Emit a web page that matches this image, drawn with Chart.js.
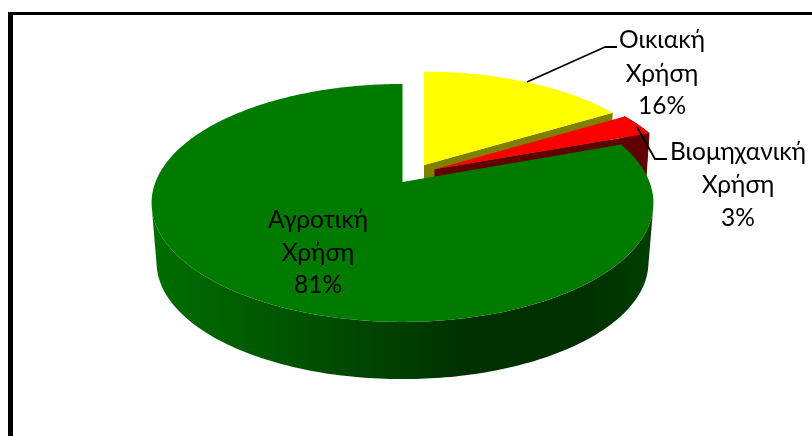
<!DOCTYPE html>
<html>
<head>
<meta charset="utf-8">
<script src="https://cdn.jsdelivr.net/npm/chart.js@4"></script>
<style>
html,body{margin:0;padding:0;background:#fff;width:812px;height:436px;overflow:hidden}
#frame{position:absolute;left:8px;top:12px;right:0;bottom:0;border-left:5px solid #000;border-top:3px solid #000;pointer-events:none}
canvas{position:absolute;left:0;top:0}
</style>
</head>
<body>
<canvas id="c" width="812" height="436"></canvas>
<div id="frame"></div>
<script>
const categories = ['Οικιακή Χρήση', 'Βιομηχανική Χρήση', 'Αγροτική Χρήση'];
const values = [16.3, 3.1, 80.6];
const colors = ['#ffff00', '#ff0000', '#007b00'];

// Perspective of the 3D pie: maps points of the unit disk to the page.
const view = { cx: 402.5, cy: 182, bx: 247, by: 115.3, p: 0.176, depth: 60, shrink: 0.98 };
const explodeV = [0.151, 0.112, 0];
const shiftX = [21.5, 32, 0];
const faceShade = [0.5, 0.38, 0.4];
const labelBoxes = [[662, [40, 74, 106]], [738, [152, 185, 218]], [318, [220, 253, 285]]];
const leaders = [[[527, 82], [605, 47], [617, 47]], [[637, 127], [655, 159], [667, 159]]];

function project(u, v, i, lower) {
  const d = 1 + view.p * v;
  const s = lower ? view.shrink : 1;
  return [view.cx + shiftX[i] + s * view.bx * u / d, view.cy + (lower ? view.depth : 0) - s * view.by * v / d];
}
function shadeColor(hex, f) {
  const n = parseInt(hex.slice(1), 16);
  return `rgb(${Math.round((n >> 16 & 255) * f)},${Math.round((n >> 8 & 255) * f)},${Math.round((n & 255) * f)})`;
}
function wallShade(u) {
  if (u < 0.3) return 0.9 - (u + 1) / 1.3 * 0.52;
  if (u < 0.7) return 0.38;
  return 0.38 + (u - 0.7) / 0.3 * 0.14;
}
function poly(ctx, pts, fill, edge) {
  ctx.fillStyle = fill;
  ctx.beginPath();
  pts.forEach((p, k) => k ? ctx.lineTo(p[0], p[1]) : ctx.moveTo(p[0], p[1]));
  ctx.closePath();
  ctx.fill();
  if (edge) { ctx.strokeStyle = fill; ctx.lineWidth = 0.8; ctx.stroke(); }
}
function quadArea(a, b, c, d) {
  return (a[0] - c[0]) * (b[1] - d[1]) - (b[0] - d[0]) * (a[1] - c[1]);
}

const pie3d = {
  id: 'pie3d',
  beforeDatasetDraw(chart, args) {
    const ctx = chart.ctx;
    const arcs = chart.getDatasetMeta(args.index).data;
    ctx.save();
    arcs.forEach((arc, i) => {
      const ov = explodeV[i];
      const a0 = arc.startAngle + Math.PI / 2, a1 = arc.endAngle + Math.PI / 2;
      const n = Math.max(4, Math.ceil((a1 - a0) / (Math.PI / 180)));
      const pts = [];
      for (let k = 0; k <= n; k++) {
        const t = a0 + (a1 - a0) * k / n;
        pts.push([Math.sin(t), Math.cos(t) + ov]);
      }
      const top = pts.map(q => project(q[0], q[1], i));
      const bottom = pts.map(q => project(q[0], q[1], i, true));
      // outer wall (the yellow slice's wall faces away from the viewer)
      if (i === 1) {
        const fill = shadeColor(colors[i], faceShade[i]);
        for (let k = 0; k < n; k++) {
          poly(ctx, [top[k], top[k + 1], bottom[k + 1], bottom[k]], fill, true);
        }
      }
      if (i === 2) {
        const xa = view.cx - view.bx * 1.016, xb = view.cx + view.bx * 1.016;
        const fill = ctx.createLinearGradient(xa, 0, xb, 0);
        for (let s = 0; s <= 40; s++) {
          fill.addColorStop(s / 40, shadeColor(colors[i], wallShade(s / 20 - 1)));
        }
        // only the run of strips that faces the viewer, as one seamless shape
        let front = 0;
        for (let k = 1; k <= n; k++) if (pts[k][1] < pts[front][1]) front = k;
        const sign = Math.sign(quadArea(top[front], top[front + 1], bottom[front + 1], bottom[front]));
        let lo = front, hi = front;
        while (lo > 0 && Math.sign(quadArea(top[lo - 1], top[lo], bottom[lo], bottom[lo - 1])) === sign) lo--;
        while (hi < n - 1 && Math.sign(quadArea(top[hi], top[hi + 1], bottom[hi + 1], bottom[hi])) === sign) hi++;
        poly(ctx, top.slice(lo, hi + 2).concat(bottom.slice(lo, hi + 2).reverse()), fill);
      }
      // radial face that shows in the gap below the exploded slices
      const c = project(0, ov, i);
      if (i < 2) {
        poly(ctx, [c, top[n], bottom[n], project(0, ov, i, true)], shadeColor(colors[i], faceShade[i]));
      }
      // top surface
      poly(ctx, [c].concat(top), colors[i]);
    });
    ctx.restore();
    return false;
  },
  afterDraw(chart) {
    const ctx = chart.ctx;
    ctx.save();
    ctx.strokeStyle = '#000'; ctx.lineWidth = 1.8; ctx.lineJoin = 'round';
    leaders.forEach(path => {
      ctx.beginPath();
      path.forEach((p, k) => k ? ctx.lineTo(p[0], p[1]) : ctx.moveTo(p[0], p[1]));
      ctx.stroke();
    });
    ctx.fillStyle = '#000';
    ctx.font = '24.5px Lato, "Open Sans"';
    ctx.textAlign = 'center'; ctx.textBaseline = 'middle';
    const total = values.reduce((a, b) => a + b, 0);
    categories.forEach((name, i) => {
      const lines = name.split(' ').concat(Math.round(values[i] / total * 100) + '%');
      lines.forEach((t, k) => ctx.fillText(t, labelBoxes[i][0], labelBoxes[i][1][k]));
    });
    ctx.restore();
  }
};

new Chart(document.getElementById('c'), {
  type: 'pie',
  data: { labels: categories, datasets: [{ data: values, backgroundColor: colors, borderWidth: 0 }] },
  options: {
    responsive: false,
    animation: false,
    plugins: { legend: { display: false }, tooltip: { enabled: false } }
  },
  plugins: [pie3d]
});
</script>
</body>
</html>
